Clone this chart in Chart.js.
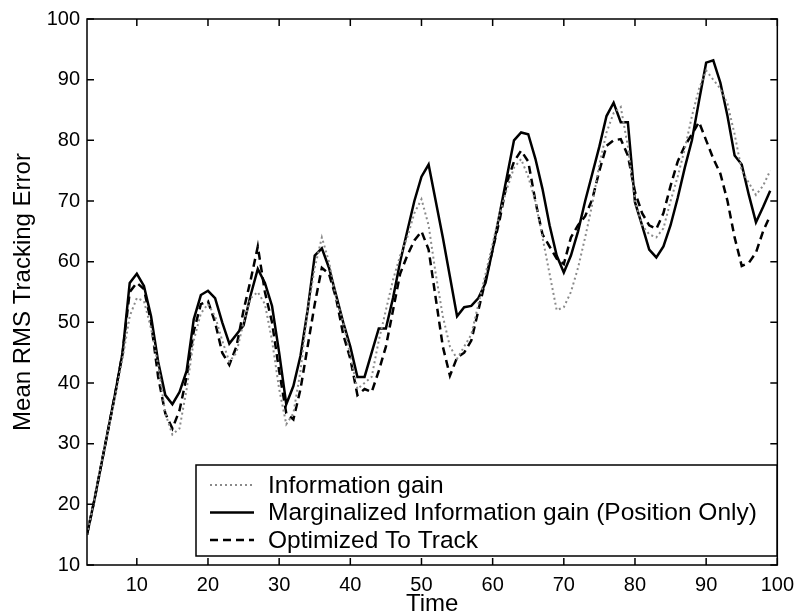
<!DOCTYPE html>
<html>
<head>
<meta charset="utf-8">
<script src="https://cdn.jsdelivr.net/npm/chart.js@4/dist/chart.umd.min.js"></script>
<style>
  html, body { margin: 0; padding: 0; background: #fff; }
  #wrap { width: 802px; height: 616px; }
</style>
</head>
<body>
<div id="wrap"><canvas id="c" width="802" height="616"></canvas></div>
<script>
// time steps 3..99
var time = [];
for (var t = 3; t <= 99; t++) time.push(t);

var infoGain = [
  15, 20.5, 26.5, 32.5, 38, 44, 51, 54, 53.5, 49,
  43, 35, 31.5, 32.5, 39, 47, 51.5, 53, 51, 47,
  43.5, 45, 50, 54, 55, 53, 47, 39, 33.2, 35,
  42, 52, 59, 64, 60, 54, 50, 44.5, 39, 40,
  41, 47, 52, 57, 61, 64, 68, 70.3, 66, 58,
  51, 46, 44, 46, 48, 53, 58, 63, 68, 72,
  75.5, 76.9, 74, 70, 64, 58, 52, 52.5, 55, 59,
  64, 69.5, 76, 81.3, 84.5, 85.5, 79, 70, 66, 64.5,
  64, 65.5, 70, 74, 78.6, 84, 88.5, 91.5, 90, 88.5,
  86, 81, 75, 73, 71, 72.5, 75
];

var marginalized = [
  15, 20.5, 26.5, 32.5, 38.5, 45, 56.5, 58, 56, 51,
  43.5, 38, 36.5, 38.5, 42, 50.5, 54.5, 55.2, 54, 50,
  46.5, 48, 49.5, 54.5, 58.8, 56.5, 52.7, 45, 36.5, 39.5,
  44.5, 52, 61, 62.2, 59, 54.5, 50, 46, 41, 41,
  45, 49, 49, 54, 60, 65, 70, 74, 76, 70,
  64, 57.5, 51, 52.5, 52.7, 54, 56.5, 62, 68, 74,
  80, 81.3, 81, 77, 72, 66, 61, 58.2, 61, 65,
  70, 74.5, 79, 84, 86.2, 83, 83, 69.8, 66, 62,
  60.7, 62.5, 66, 70.5, 75.5, 80, 86.5, 92.8, 93.2, 89.5,
  84, 77.5, 76, 71, 66.5, 69, 71.7
];

var optimized = [
  15, 20.5, 26.5, 32.5, 38.5, 45, 55, 56.5, 55.5, 50,
  41, 35, 32.5, 35.5, 41, 48.5, 53, 53.5, 50, 45,
  43, 46, 52, 57, 62.5, 55, 50, 42, 35, 34,
  39, 46, 53, 59, 58, 54, 48, 44, 38, 39,
  38.5, 42, 46, 52, 58, 61, 63.5, 65, 62, 54,
  46, 41.2, 44.2, 45, 47, 52, 57, 62, 67, 73,
  76.5, 78.3, 76.5, 70, 64.5, 62.5, 60.5, 59.6, 64, 66,
  67.5, 70.3, 75, 79.1, 80, 80.2, 77.5, 71.5, 68, 66,
  65.4, 68, 72.5, 76.5, 79.1, 81, 83, 80, 77, 74.5,
  70, 64, 59.3, 59.8, 61.5, 65, 67.6
];

var xTicks = [10, 20, 30, 40, 50, 60, 70, 80, 90, 100];
var yTicks = [10, 20, 30, 40, 50, 60, 70, 80, 90, 100];
var seriesNames = [
  'Information gain',
  'Marginalized Information gain (Position Only)',
  'Optimized To Track'
];

var FONT = '"Liberation Sans", Arial, Helvetica, sans-serif';

function pts(arr) {
  return arr.map(function (v, i) { return { x: time[i], y: v }; });
}

var styles = [
  { color: '#8a8a8a', width: 2, dash: [2, 3] },
  { color: '#000', width: 2.5, dash: [] },
  { color: '#000', width: 2.5, dash: [8, 5] }
];

// MATLAB-like box with inward ticks on all four sides, plus legend
var boxPlugin = {
  id: 'box',
  afterDraw: function (chart) {
    var a = chart.chartArea, ctx = chart.ctx;
    var xs = chart.scales.x, ys = chart.scales.y;
    ctx.save();
    ctx.strokeStyle = '#000';
    ctx.lineWidth = 1.5;
    ctx.strokeRect(a.left, a.top, a.right - a.left, a.bottom - a.top);
    ctx.beginPath();
    xTicks.forEach(function (v) {
      var px = xs.getPixelForValue(v);
      ctx.moveTo(px, a.bottom); ctx.lineTo(px, a.bottom - 7);
      ctx.moveTo(px, a.top); ctx.lineTo(px, a.top + 7);
    });
    yTicks.forEach(function (v) {
      var py = ys.getPixelForValue(v);
      ctx.moveTo(a.left, py); ctx.lineTo(a.left + 7, py);
      ctx.moveTo(a.right, py); ctx.lineTo(a.right - 7, py);
    });
    ctx.stroke();

    var lx = 196, ly = 465, lw = 581, lh = 91;
    ctx.fillStyle = '#fff';
    ctx.fillRect(lx, ly, lw, lh);
    ctx.strokeRect(lx, ly, lw, lh);
    ctx.font = '24.5px ' + FONT;
    ctx.textBaseline = 'middle';
    ctx.fillStyle = '#000';
    seriesNames.forEach(function (name, i) {
      var yy = ly + 20 + i * 27.5;
      var s = styles[i];
      ctx.beginPath();
      ctx.strokeStyle = s.color;
      ctx.lineWidth = s.width;
      ctx.setLineDash(s.dash);
      ctx.moveTo(lx + 14, yy);
      ctx.lineTo(lx + 58, yy);
      ctx.stroke();
      ctx.setLineDash([]);
      ctx.fillText(name, lx + 72, yy + 1);
    });
    ctx.restore();
  }
};

var datasets = [infoGain, marginalized, optimized].map(function (arr, i) {
  return {
    label: seriesNames[i],
    data: pts(arr),
    borderColor: styles[i].color,
    borderWidth: styles[i].width,
    borderDash: styles[i].dash,
    pointRadius: 0,
    tension: 0,
    fill: false
  };
});

new Chart(document.getElementById('c'), {
  type: 'line',
  data: { datasets: datasets },
  plugins: [boxPlugin],
  options: {
    responsive: false,
    animation: false,
    layout: { padding: { top: 17, right: 19, left: 0, bottom: 0 } },
    plugins: { legend: { display: false }, tooltip: { enabled: false } },
    scales: {
      x: {
        type: 'linear',
        min: 3,
        max: 100,
        afterBuildTicks: function (s) { s.ticks = xTicks.map(function (v) { return { value: v }; }); },
        afterFit: function (s) { s.height = 51; },
        grid: { display: false, drawTicks: false },
        border: { display: false },
        ticks: { color: '#000', font: { family: FONT, size: 20 }, padding: 8, maxRotation: 0 },
        title: { display: true, text: 'Time', color: '#000', font: { family: FONT, size: 24 }, padding: { top: 0, bottom: -3 } }
      },
      y: {
        type: 'linear',
        min: 10,
        max: 100,
        afterBuildTicks: function (s) { s.ticks = yTicks.map(function (v) { return { value: v }; }); },
        afterFit: function (s) { s.width = 87; },
        grid: { display: false, drawTicks: false },
        border: { display: false },
        ticks: { color: '#000', font: { family: FONT, size: 20 }, padding: 7 },
        title: { display: true, text: 'Mean RMS Tracking Error', color: '#000', font: { family: FONT, size: 24 }, padding: { top: 9, bottom: 0 } }
      }
    }
  }
});
</script>
</body>
</html>
